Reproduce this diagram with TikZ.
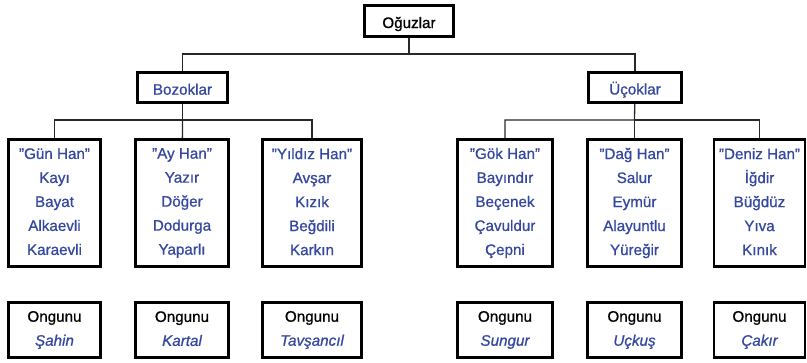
\documentclass[tikz,border=0pt]{standalone}
\usepackage{fontspec}
\setmainfont{Liberation Sans}[FakeBold=0.8]
\usepackage{tikz}
\usetikzlibrary{positioning, calc}
\definecolor{boylink}{RGB}{52,72,160}
\definecolor{barline}{RGB}{40,40,40}
\newcommand{\tirnak}[1]{\symbol{34}#1\symbol{34}}
\newcommand{\dikme}{\rule[-2.8pt]{0pt}{20pt}} % strut centred on the capitals
\tikzset{
  boyagaci/.style={
	x=1pt, y=-1pt, % one unit is one pixel of the page
	font=\fontsize{15.2}{24}\selectfont,
	every node/.style={inner sep=0pt, align=center,
	  execute at begin node=\dikme, execute at end node=\dikme},
  },
  kutu/.style={draw=black, line width=2.6pt, fill=white}, % thick framed box
  boy/.style={kutu, text=boylink}, % box of a tribe
  bag/.style={draw=barline, line width=1.3pt}, % tree connector
}

\begin{document}
\begin{tikzpicture}[boyagaci]
\useasboundingbox (0,0) rectangle (807,362);

% top of the tree
\node[kutu, minimum width=89pt, minimum height=31pt] (oguz) at (409,21) {Oğuzlar};
\node[boy, minimum width=90pt, minimum height=30pt] (bozok) at (182.5,87.5) {Bozoklar};
\node[boy, minimum width=93pt, minimum height=30pt] (ucok) at (635,87.5) {Üçoklar};

% the six sons and their tribes
\node[boy, minimum width=92pt, minimum height=127pt] (gun) at (54.5,203) {\tirnak{Gün Han}\\Kayı\\Bayat\\Alkaevli\\Karaevli};
\node[boy, minimum width=93pt, minimum height=127pt] (ay) at (182,203) {\tirnak{Ay Han}\\Yazır\\Döğer\\Dodurga\\Yaparlı};
\node[boy, minimum width=99pt, minimum height=127pt] (yildiz) at (312,203) {\tirnak{Yıldız Han}\\Avşar\\Kızık\\Beğdili\\Karkın};
\node[boy, minimum width=95pt, minimum height=127pt] (gok) at (505,203) {\tirnak{Gök Han}\\Bayındır\\Beçenek\\Çavuldur\\Çepni};
\node[boy, minimum width=94pt, minimum height=127pt] (dag) at (634.5,203) {\tirnak{Dağ Han}\\Salur\\Eymür\\Alayuntlu\\Yüreğir};
\node[boy, minimum width=91pt, minimum height=127pt] (deniz) at (759.5,203) {\tirnak{Deniz Han}\\İğdir\\Büğdüz\\Yıva\\Kınık};

% ongun birds
\node[kutu, minimum width=92pt, minimum height=55pt] (ongungun) at (54.5,330) {Ongunu\\\textcolor{boylink}{\itshape Şahin}};
\node[kutu, minimum width=93pt, minimum height=55pt] (ongunay) at (182,330) {Ongunu\\\textcolor{boylink}{\itshape Kartal}};
\node[kutu, minimum width=99pt, minimum height=55pt] (ongunyildiz) at (312,330) {Ongunu\\\textcolor{boylink}{\itshape Tavşancıl}};
\node[kutu, minimum width=95pt, minimum height=55pt] (ongungok) at (505,330) {Ongunu\\\textcolor{boylink}{\itshape Sungur}};
\node[kutu, minimum width=94pt, minimum height=55pt] (ongundag) at (634.5,330) {Ongunu\\\textcolor{boylink}{\itshape Uçkuş}};
\node[kutu, minimum width=91pt, minimum height=55pt] (ongundeniz) at (759.5,330) {Ongunu\\\textcolor{boylink}{\itshape Çakır}};

% connectors
\coordinate (oguzbar) at (409,54);
\coordinate (bozokbar) at (182.5,120);
\coordinate (ucokbar) at (634.5,120);
\begin{scope}[on background layer/.try]
\draw[bag] (oguz) -- (oguzbar) -| (bozok);
\draw[bag] (oguzbar) -| (ucok);
\draw[bag] (bozok) -- (bozokbar) -| (gun);
\draw[bag] (bozokbar) -- (ay);
\draw[bag] (bozokbar) -| (yildiz);
\draw[bag] (ucok) -- (ucokbar) -| (gok);
\draw[bag] (ucokbar) -- (dag);
\draw[bag] (ucokbar) -| (deniz);
\end{scope}
\end{tikzpicture}
\end{document}
